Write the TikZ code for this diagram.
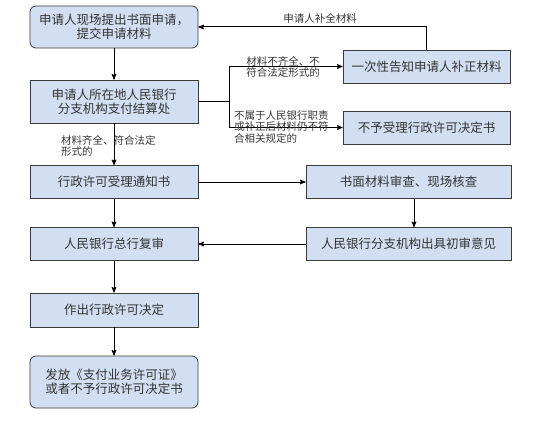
\documentclass[tikz,border=0pt]{standalone}
\usepackage{fontspec}
\setmainfont{Noto Sans CJK SC}
\usepackage{xcolor}
\usepackage{tikz}
\usetikzlibrary{positioning}
\usetikzlibrary{arrows}
\definecolor{boxfill}{HTML}{D2DFF2}
\definecolor{boxline}{HTML}{3A3A3A}
\definecolor{textgray}{HTML}{333333}
\begin{document}
\begin{tikzpicture}[x=1pt,y=-1pt]
			\tikzstyle{StepBox}  = [draw=boxline, line width=0.8pt, fill=boxfill, text=textgray, align=center, inner sep=0pt, font=\fontsize{12.5}{14}\selectfont]
			\tikzstyle{RoundBox} = [StepBox, rounded corners=6pt]
			\tikzstyle{EdgeStyle} = [->,>=stealth', line width=1pt, black]
			\tikzstyle{NoteStyle} = [text=textgray, inner sep=0pt, font=\fontsize{10.5}{10.5}\selectfont]
			\useasboundingbox (0,0) rectangle (540,420);
			% left column
			\node[RoundBox, minimum width=168pt, minimum height=42pt] (apply)  at (114,27)    {申请人现场提出书面申请，\\提交申请材料};
			\node[StepBox,  minimum width=168pt, minimum height=43pt] (branch) at (114,101.5) {申请人所在地人民银行\\分支机构支付结算处};
			\node[StepBox,  minimum width=168pt, minimum height=33pt] (accept) at (114,182)   {行政许可受理通知书};
			\node[StepBox,  minimum width=168pt, minimum height=33pt] (review) at (114,244)   {人民银行总行复审};
			\node[StepBox,  minimum width=168pt, minimum height=34pt] (decide) at (114,310)   {作出行政许可决定};
			\node[RoundBox, minimum width=168pt, minimum height=52pt] (issue)  at (114,382)   {发放《支付业务许可证》\\或者不予行政许可决定书};
			% right column
			\node[StepBox, minimum width=167pt, minimum height=33pt] (notify)  at (426.5,66.5)  {一次性告知申请人补正材料};
			\node[StepBox, minimum width=167pt, minimum height=33pt] (reject)  at (426.5,127.5) {不予受理行政许可决定书};
			\node[StepBox, minimum width=205pt, minimum height=33pt] (check)   at (408.5,182)   {书面材料审查、现场核查};
			\node[StepBox, minimum width=205pt, minimum height=33pt] (opinion) at (408.5,244)   {人民银行分支机构出具初审意见};
			\coordinate (split) at (229,101.5);
			% connectors
			\draw[EdgeStyle] (apply) -- (branch);
			\draw[EdgeStyle] (branch) -- (accept);
			\draw[EdgeStyle] (accept) -- (review);
			\draw[EdgeStyle] (review) -- (decide);
			\draw[EdgeStyle] (decide) -- (issue);
			\draw[EdgeStyle] (accept) -- (check);
			\draw[EdgeStyle] ([xshift=5.5pt]check.south) -- ([xshift=5.5pt]opinion.north);
			\draw[EdgeStyle] (opinion) -- (review);
			\draw[line width=1pt] (branch.east) -- (split);
			\draw[EdgeStyle] (split) |- (notify.west);
			\draw[EdgeStyle] (split) |- (reject.west);
			\draw[EdgeStyle] (notify.north) |- (apply.east);
			% labels
			\node[NoteStyle] (supply) at (320,18) {申请人补全材料};
			\node[NoteStyle, align=center] (lack) at (283,67) {材料不齐全、不\\符合法定形式的};
			\node[NoteStyle, align=left, anchor=west, font=\fontsize{10.5}{11.5}\selectfont] (outside) at (234,127) {不属于人民银行职责\\或补正后材料仍不符\\合相关规定的};
			\node[NoteStyle, align=left, anchor=west] (full) at (61,146) {材料齐全、符合法定\\形式的};
		\end{tikzpicture}
\end{document}
